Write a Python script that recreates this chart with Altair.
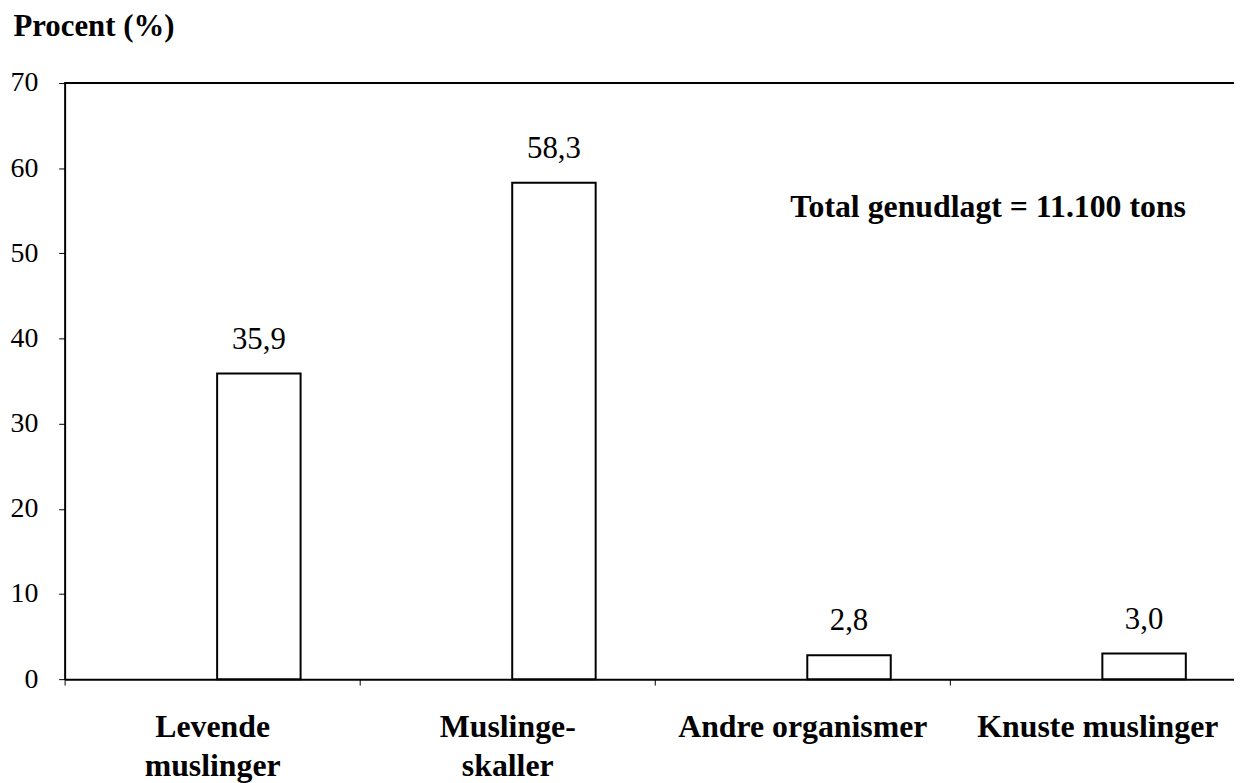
import altair as alt
import pandas as pd

categories = ["Levende|muslinger", "Muslinge-|skaller", "Andre organismer", "Knuste muslinger"]
values = [35.9, 58.3, 2.8, 3.0]
y_ticks = [0, 10, 20, 30, 40, 50, 60, 70]
note_text = ["Total genudlagt = 11.100 tons"]
note_cat = ["Knuste muslinger"]
note_y = [54.3]

df = pd.DataFrame({"cat": categories, "val": values})
note = pd.DataFrame({"t": note_text, "cat": note_cat, "y": note_y})

SERIF = "Liberation Serif"

x_enc = alt.X(
    "cat:N",
    sort=categories,
    scale=alt.Scale(range=[0, 1188], paddingInner=0, paddingOuter=0),
    axis=alt.Axis(
        title=None,
        labelAngle=0,
        labelExpr="split(datum.label, '|')",
        labelFont=SERIF,
        labelFontWeight="bold",
        labelFontSize=32,
        labelLineHeight=39,
        labelLimit=0,
        labelPadding=27,
        labelColor="black",
        tickBand="extent",
        tickSize=6,
        tickColor="black",
        domainColor="black",
        domainWidth=2,
    ),
)

y_enc = alt.Y(
    "val:Q",
    scale=alt.Scale(domain=[0, 70], nice=False),
    axis=alt.Axis(
        values=y_ticks,
        title="Procent (%)",
        titleAngle=0,
        titleAlign="left",
        titleBaseline="alphabetic",
        titleX=-52,
        titleY=-48,
        titleFont=SERIF,
        titleFontWeight="bold",
        titleFontSize=31,
        titleColor="black",
        labelFont=SERIF,
        labelFontSize=28,
        labelColor="black",
        labelPadding=21,
        tickSize=6,
        tickColor="black",
        domainColor="black",
        domainWidth=2,
        grid=False,
    ),
)

bars = alt.Chart(df).mark_bar(
    fill="white", stroke="black", strokeWidth=2, size=84, xOffset=47
).encode(x=x_enc, y=y_enc)

labels = alt.Chart(df).transform_calculate(
    lab="replace(format(datum.val, '.1f'), '.', ',')"
).mark_text(
    font=SERIF, fontSize=31, baseline="bottom", dy=-18, xOffset=47, color="black"
).encode(x=alt.X("cat:N", sort=categories), y="val:Q", text="lab:N")

note_mark = alt.Chart(note).mark_text(
    font=SERIF, fontSize=32, fontWeight="bold", align="center", baseline="alphabetic",
    xOffset=-110, color="black"
).encode(x=alt.X("cat:N", sort=categories), y=alt.Y("y:Q"), text="t:N")

top_line = alt.Chart(df).mark_rule(color="black", strokeWidth=2).encode(y=alt.datum(70))

chart = alt.layer(bars, labels, note_mark, top_line).properties(
    width=1177,
    height=600,
    autosize=alt.AutoSizeParams(type="none"),
    padding={"left": 57, "top": 73, "right": 0, "bottom": 102},
    background="white",
).configure_view(stroke=None)

chart.save("out.html", embed_options={"renderer": "svg", "actions": False})
